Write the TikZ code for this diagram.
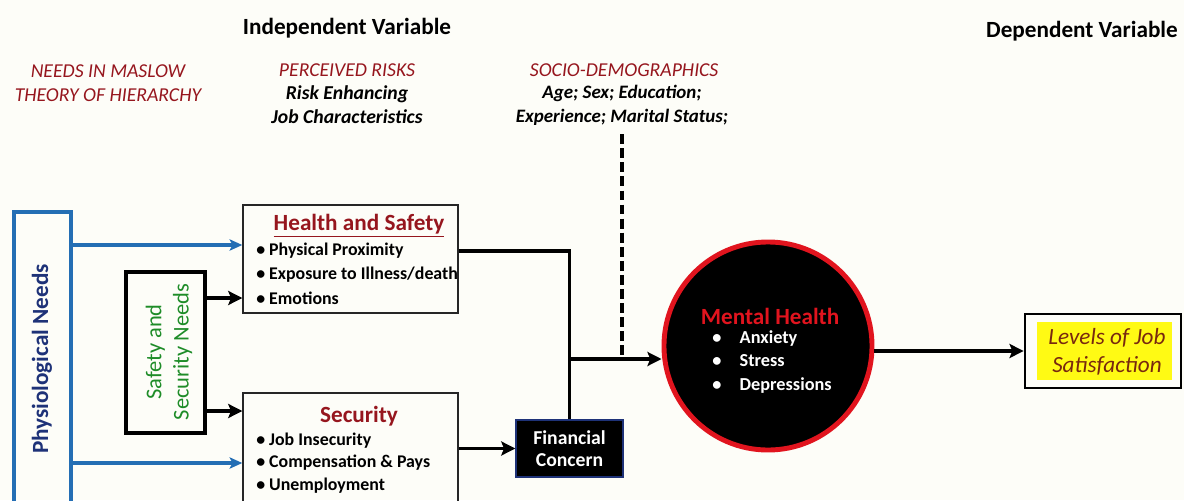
\documentclass[tikz,border=0pt]{standalone}
\usepackage{fontspec}
\setmainfont{Carlito}
\usetikzlibrary{arrows, arrows.meta, positioning, fit}

\definecolor{maroon}{RGB}{150,22,30}
\definecolor{linkblue}{RGB}{36,110,180}
\definecolor{navy}{RGB}{30,50,120}
\definecolor{leafgreen}{RGB}{30,140,40}
\definecolor{paper}{RGB}{253,253,248}
\definecolor{ringred}{RGB}{225,20,30}
\definecolor{rust}{RGB}{120,40,15}
\definecolor{lemon}{RGB}{255,250,20}

\tikzset{
  varlabel/.style={font=\bfseries\fontsize{16.5}{18}\selectfont},
  theory/.style={font=\itshape\fontsize{14}{17}\selectfont, text=maroon, align=center},
  factor/.style={font=\bfseries\itshape\fontsize{14}{17}\selectfont, align=center},
  riskbox/.style={draw=black!85, line width=1pt, inner sep=0pt},
  boxtitle/.style={font=\bfseries\fontsize{16.5}{18}\selectfont, text=maroon},
  listline/.style={font=\bfseries\fontsize{12.7}{15}\selectfont, anchor=west, inner sep=0pt},
  bluelink/.style={-{Stealth[length=9pt, width=8pt, inset=2pt]}, line width=2.5pt, linkblue},
  blacklink/.style={-{Stealth[length=10pt, width=10pt, inset=2pt]}, line width=2.5pt},
  blackline/.style={line width=2.5pt},
}

\begin{document}
\begin{tikzpicture}[x=0.025cm, y=-0.025cm]
\fill[paper] (0,0) rectangle (1184,500);
\clip (0,0) rectangle (1184,500);

% Headings
\node[varlabel] (indep) at (347,28) {Independent Variable};
\node[varlabel] (dep) at (1082,31) {Dependent Variable};
\node[theory] (maslow) at (108,83) {NEEDS IN MASLOW\\THEORY OF HIERARCHY};
\node[theory] (risks) at (347,70) {PERCEIVED RISKS};
\node[factor] (jobchar) at (347,105) {Risk Enhancing\\Job Characteristics};
\node[theory, anchor=west] (socio) at (525,70) {SOCIO-DEMOGRAPHICS};
\node[factor, font=\bfseries\itshape\fontsize{13.5}{17}\selectfont] (demog) at (622,105) {Age; Sex; Education;\\Experience; Marital Status;};

% Maslow needs
\node[draw=linkblue, line width=3.5pt, fit={(14,212) (71,530)}, inner sep=0pt] (physio) {};
\node[rotate=90, text=navy, font=\bfseries\fontsize{16.5}{18}\selectfont] (physiotext) at (42,359) {Physiological Needs};
\node[draw, line width=3.5pt, fit={(126,272) (205,433)}, inner sep=0pt] (safety) {};
\node[rotate=90, text=leafgreen, align=center, font=\fontsize{16}{19.5}\selectfont] (safetytext) at (169,352) {Safety and\\Security Needs};

% Perceived risks
\node[riskbox, fit={(243,205) (458,313)}] (health) {};
\node[boxtitle] (healthtitle) at (359,226) {\underline{Health and Safety}};
\node[listline] (prox) at (256,251) {\textbullet\ Physical Proximity};
\node[listline] (expo) at (256,275) {\textbullet\ Exposure to Illness/death};
\node[listline] (emot) at (256,298) {\textbullet\ Emotions};

\node[riskbox, fit={(243,393) (458,530)}] (security) {};
\node[boxtitle] (sectitle) at (359,416) {Security};
\node[listline] (jobins) at (256,441) {\textbullet\ Job Insecurity};
\node[listline] (comp) at (256,463) {\textbullet\ Compensation \& Pays};
\node[listline] (unemp) at (256,486) {\textbullet\ Unemployment};

\node[fill=black, draw=navy, line width=1pt, fit={(516,420) (623,477)}, inner sep=0pt] (finance) {};
\node[text=white, align=center, font=\bfseries\fontsize{14}{16}\selectfont] (financetext) at (finance) {Financial\\Concern};

% Outcome
\node[circle, fill=black, draw=ringred, line width=3.5pt, minimum size=5.2cm] (mental) at (768,346) {};
\node[text=ringred, font=\bfseries\fontsize{16.5}{18}\selectfont] (mentaltitle) at (770,316) {Mental Health};
\node[text=white, align=left, font=\bfseries\fontsize{13}{16.7}\selectfont, anchor=north west, inner sep=0pt] (symptoms) at (712,330)
  {\textbullet\hspace{1em}Anxiety\\ \textbullet\hspace{1em}Stress\\ \textbullet\hspace{1em}Depressions};

\node[draw, line width=2pt, fit={(1025,314) (1181,388)}, inner sep=0pt] (levels) {};
\node[fill=lemon, fit={(1037,322) (1172,380)}, inner sep=0pt] (levelsfill) {};
\node[text=rust, align=center, font=\itshape\fontsize{16.5}{20}\selectfont] (levelstext) at (1107,352) {Levels of Job\\Satisfaction};

% Links from the needs
\coordinate (hsin) at (243,245);
\coordinate (secin) at (243,411);
\draw[bluelink] (physio.east |- hsin) -- (health.west |- hsin);
\draw[bluelink] (physio.east |- comp) -- (security.west |- comp);
\draw[blacklink] (safety.east |- emot) -- (health.west |- emot);
\draw[blacklink] (safety.east |- secin) -- (security.west |- secin);

% Risks into mental health
\coordinate (merge) at (569.5,359);
\draw[blackline] (health.east |- prox) -| (finance.north);
\draw[blacklink] (security.east |- finance) -- (finance.west);
\draw[blacklink] (merge) -- (merge -| mental.west);
\draw[blackline, dash pattern=on 7pt off 3pt, shorten <=3pt] (demog.south) -- (demog.south |- merge);

% Mental health to satisfaction
\draw[blacklink] (mental.east |- levels) -- (levels.west);
\end{tikzpicture}
\end{document}
